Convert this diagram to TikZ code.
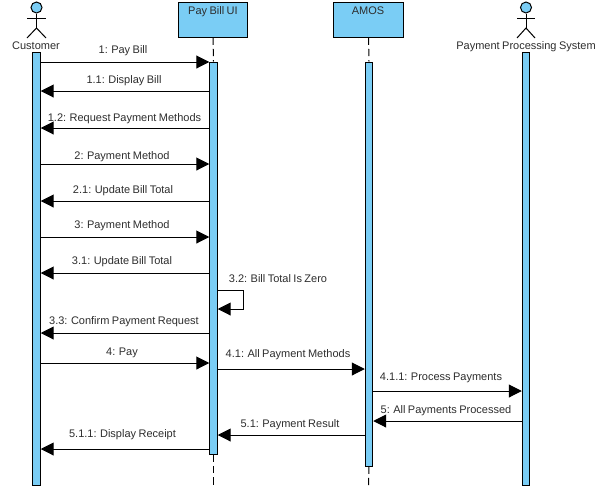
\documentclass[tikz,border=0pt]{standalone}
\usepackage{fontspec}
\setmainfont[WordSpace=0.8]{Liberation Sans}
\usetikzlibrary{arrows.meta}
\definecolor{barblue}{RGB}{122,205,245}
\definecolor{labelgrey}{RGB}{45,45,45}
\tikzset{every picture/.style={line width=0.75pt}}
\tikzset{
	lifebox/.style={draw,fill=barblue,rectangle,inner sep=0pt,minimum width=52pt,minimum height=26.25pt},
	activation/.style={draw,fill=barblue,rectangle,inner sep=0pt,minimum width=5.6pt},
	actorhead/.style={draw,fill=barblue,circle,inner sep=0pt,minimum size=8.25pt},
	msg/.style={-{Triangle[length=9.75pt,width=9.75pt]}},
	lifeline/.style={dash pattern=on 5.5pt off 3pt},
	msglabel/.style={font=\fontsize{8.25pt}{10pt}\selectfont,text=labelgrey,inner sep=0pt,text height=6pt,text depth=0pt}
}

\begin{document}
\begin{tikzpicture}[x=0.75pt,y=0.75pt,yscale=-1]
	\useasboundingbox (0,0) rectangle (606,490);

	% Actor: Customer
	\node [actorhead] (customerHead) at (36.5,7.5) {};
	\coordinate (customerHip) at (36.5,28);
	\coordinate (customerArmL) at (27,18);
	\coordinate (customerArmR) at (46,18);
	\coordinate (customerFootL) at (27,38);
	\coordinate (customerFootR) at (46,38);
	\draw (customerHead.south) -- (customerHip);
	\draw (customerArmL) -- (customerArmR);
	\draw (customerFootL) -- (customerHip) -- (customerFootR);
	\node [msglabel] (customerText) at (36,45.5) {Customer};

	% Actor: Payment Processing System
	\node [actorhead] (paymentHead) at (526,7.5) {};
	\coordinate (paymentHip) at (526,28);
	\coordinate (paymentArmL) at (517,18);
	\coordinate (paymentArmR) at (535,18);
	\coordinate (paymentFootL) at (517,38);
	\coordinate (paymentFootR) at (535,38);
	\draw (paymentHead.south) -- (paymentHip);
	\draw (paymentArmL) -- (paymentArmR);
	\draw (paymentFootL) -- (paymentHip) -- (paymentFootR);
	\node [msglabel] (paymentText) at (526,45.5) {Payment Processing System};

	% Lifeline boxes
	\node [lifebox] (billBox) at (213,19.5) {};
	\node [lifebox] (amosBox) at (368.5,19.5) {};
	\node [msglabel] (billText) at (213,10) {Pay Bill UI};
	\node [msglabel] (amosText) at (368,10) {AMOS};

	% Activation bars
	\node [activation,minimum height=324.75pt] (customerBar) at (36.5,268.5) {};
	\node [activation,minimum height=294pt] (billBar) at (213.5,258) {};
	\node [activation,minimum height=303pt] (amosBar) at (369,264) {};
	\node [activation,minimum height=324.75pt] (paymentBar) at (526,268.5) {};

	% Dashed lifelines
	\coordinate (billEnd) at (213.5,485);
	\coordinate (amosEnd) at (368.5,485);
	\draw [lifeline] (billBox.south) -- (billBar.north);
	\draw [lifeline] (billBar.south) -- (billEnd);
	\draw [lifeline] (amosBox.south) -- (amosBar.north);
	\draw [lifeline] (amosBar.south) -- (amosEnd);

	% Message rows
	\coordinate (m1) at (0,62);
	\coordinate (m11) at (0,91);
	\coordinate (m12) at (0,128);
	\coordinate (m2) at (0,164);
	\coordinate (m21) at (0,201);
	\coordinate (m3) at (0,237);
	\coordinate (m31) at (0,273);
	\coordinate (m33) at (0,333);
	\coordinate (m4) at (0,363);
	\coordinate (m41) at (0,369);
	\coordinate (m411) at (0,391);
	\coordinate (m5) at (0,421);
	\coordinate (m51) at (0,435);
	\coordinate (m511) at (0,449);

	% Messages
	\draw [msg] (customerBar.east |- m1) -- (billBar.west |- m1);
	\draw [msg] (billBar.west |- m11) -- (customerBar.east |- m11);
	\draw [msg] (billBar.west |- m12) -- (customerBar.east |- m12);
	\draw [msg] (customerBar.east |- m2) -- (billBar.west |- m2);
	\draw [msg] (billBar.west |- m21) -- (customerBar.east |- m21);
	\draw [msg] (customerBar.east |- m3) -- (billBar.west |- m3);
	\draw [msg] (billBar.west |- m31) -- (customerBar.east |- m31);
	\draw [msg] (billBar.west |- m33) -- (customerBar.east |- m33);
	\draw [msg] (customerBar.east |- m4) -- (billBar.west |- m4);
	\draw [msg] (billBar.east |- m41) -- (amosBar.west |- m41);
	\draw [msg] (amosBar.east |- m411) -- (paymentBar.west |- m411);
	\draw [msg] (paymentBar.west |- m5) -- (amosBar.east |- m5);
	\draw [msg] (amosBar.west |- m51) -- (billBar.east |- m51);
	\draw [msg] (billBar.west |- m511) -- (customerBar.east |- m511);

	% Self message
	\coordinate (selfTop) at (243,290);
	\coordinate (selfBottom) at (243,309);
	\draw [msg] (billBar.east |- selfTop) -- (selfTop) -- (selfBottom) -- (billBar.east |- selfBottom);

	% Text Node
	\node [msglabel] (t1) at (123,49.5) {1: Pay Bill};
	\node [msglabel] (t11) at (124,79.5) {1.1: Display Bill};
	\node [msglabel] (t12) at (124.5,117.5) {1.2: Request Payment Methods};
	\node [msglabel] (t2) at (122,155.5) {2: Payment Method};
	\node [msglabel] (t21) at (123,189.5) {2.1: Update Bill Total};
	\node [msglabel] (t3) at (122,224.5) {3: Payment Method};
	\node [msglabel] (t31) at (122,260.5) {3.1: Update Bill Total};
	\node [msglabel] (t32) at (278,278.5) {3.2: Bill Total Is Zero};
	\node [msglabel] (t33) at (124,320.5) {3.3: Confirm Payment Request};
	\node [msglabel] (t4) at (122,351.5) {4: Pay};
	\node [msglabel] (t41) at (288,353.5) {4.1: All Payment Methods};
	\node [msglabel] (t411) at (441,376.5) {4.1.1: Process Payments};
	\node [msglabel] (t5) at (446,409.5) {5: All Payments Processed};
	\node [msglabel] (t51) at (290,423.5) {5.1: Payment Result};
	\node [msglabel] (t511) at (122.5,433.5) {5.1.1: Display Receipt};
\end{tikzpicture}
\end{document}
